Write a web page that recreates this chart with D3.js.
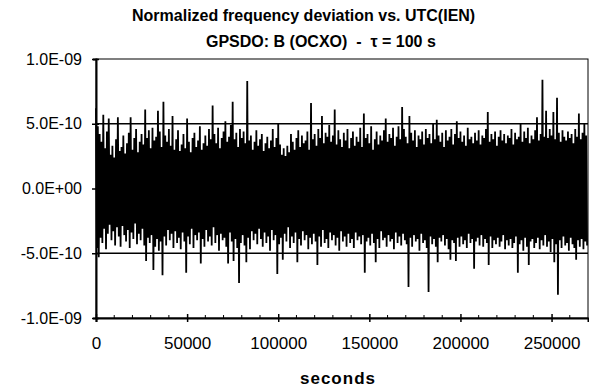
<!DOCTYPE html>
<html>
<head>
<meta charset="utf-8">
<script src="https://cdn.jsdelivr.net/npm/d3@7"></script>
<style>
  body { margin: 0; background: #fff; }
  text { font-family: "Liberation Sans", Arial, sans-serif; fill: #000; }
</style>
</head>
<body>
<script>
// tick values and labels
const xTicks = [0, 50000, 100000, 150000, 200000, 250000];
const yTicks = [1e-9, 5e-10, 0, -5e-10, -1e-9];
const yTickLabels = ["1.0E-09", "5.0E-10", "0.0E+00", "-5.0E-10", "-1.0E-09"];
const gridValues = [5e-10, -5e-10];

// highest / lowest reading in every 1000 s slot, in units of 1E-10 (estimated from the plot)
const upperPeaks = [
  6.2, 4.8, 4.2, 3.6, 5.7, 3.1, 4.4, 5.4, 2.6, 3.3,
  2.4, 3.8, 5.5, 2.9, 3.2, 4.1, 2.7, 3.5, 4.3, 5.5,
  3.0, 3.9, 4.6, 2.8, 3.6, 4.2, 3.4, 6.1, 3.9, 4.5,
  3.1, 4.7, 3.7, 4.0, 6.0, 4.4, 3.2, 6.7, 4.1, 3.6,
  4.6, 3.3, 5.6, 3.0, 3.8, 4.5, 2.9, 3.4, 4.2, 3.1,
  5.4, 3.6, 2.8, 3.9, 4.3, 3.2, 3.7, 4.8, 3.0, 3.5,
  4.1, 3.3, 4.6, 3.8, 6.4, 4.2, 3.5, 4.7, 3.1, 3.9,
  4.4, 5.2, 3.6, 4.0, 4.9, 6.7, 3.8, 4.3, 3.2, 4.6,
  3.9, 4.4, 3.5, 8.3, 3.7, 4.1, 3.0, 3.6, 4.5, 3.3,
  3.8, 4.2, 2.9, 3.5, 4.0, 3.1, 3.7, 4.6, 3.2, 3.9,
  5.0, 3.4, 2.6, 3.1, 2.5, 3.3, 2.8, 4.2, 3.6, 3.0,
  3.9, 4.5, 3.2, 4.1, 3.5, 3.7, 4.4, 3.0, 6.6, 3.8,
  4.2, 3.3, 4.6, 3.9, 5.6, 3.5, 4.3, 4.0, 4.9, 3.6,
  4.1, 6.1, 3.4, 4.5, 3.8, 3.2, 4.3, 3.7, 4.6, 3.1,
  3.9, 4.4, 3.3, 4.0, 3.6, 4.7, 3.2, 5.8, 3.9, 4.2,
  3.5, 4.8, 3.0, 3.8, 4.4, 3.4, 4.1, 3.7, 4.5, 5.4,
  3.6, 4.2, 3.9, 4.7, 3.3, 4.0, 4.8, 3.8, 6.3, 4.6,
  4.0, 3.5, 5.6, 4.3, 3.7, 4.5, 3.2, 4.1, 3.8, 4.4,
  3.4, 4.6, 3.9, 4.2, 3.5, 5.0, 3.8, 5.3, 4.1, 3.6,
  4.3, 3.2, 4.5, 3.7, 4.0, 4.6, 3.4, 4.2, 5.2, 3.9,
  4.4, 3.6, 4.1, 3.3, 4.7, 3.8, 4.0, 3.5, 4.3, 3.7,
  4.5, 3.4, 4.1, 3.9, 4.6, 5.9, 3.6, 4.2, 3.8, 4.4,
  3.3, 4.0, 4.5, 3.7, 4.2, 3.5, 4.1, 3.9, 4.6, 3.4,
  4.3, 3.8, 4.0, 5.0, 3.6, 4.4, 3.9, 4.7, 3.5, 4.1,
  3.8, 4.5, 5.5, 3.7, 4.2, 8.4, 4.0, 6.0, 3.9, 4.6,
  4.1, 5.9, 3.8, 7.0, 4.3, 3.6, 4.5, 4.0, 3.7, 4.4,
  3.9, 4.2, 3.5, 4.6, 4.0, 5.8, 3.8, 4.3, 5.0, 4.1
];
const lowerPeaks = [
  -4.6, -5.3, -3.8, -4.2, -3.1, -4.7, -3.5, -2.8, -4.0, -3.3,
  -4.4, -3.0, -3.7, -4.5, -2.9, -3.6, -4.1, -3.2, -4.6, -3.4,
  -3.9, -2.7, -4.3, -3.5, -4.0, -3.1, -4.4, -5.6, -3.8, -4.2,
  -3.6, -6.3, -4.5, -3.9, -4.8, -4.1, -6.7, -3.7, -4.4, -3.2,
  -4.0, -3.5, -4.6, -3.3, -4.2, -3.8, -4.7, -3.4, -4.1, -6.5,
  -3.7, -4.3, -3.1, -4.6, -3.6, -4.0, -3.4, -5.8, -3.9, -4.5,
  -3.2, -4.1, -3.7, -4.4, -3.0, -4.2, -3.6, -4.8, -3.5, -4.0,
  -3.8, -4.5, -5.8, -3.4, -4.1, -5.6, -3.9, -4.6, -7.3, -4.2,
  -3.6, -4.4, -5.7, -3.8, -4.7, -3.3, -4.0, -3.5, -4.3, -3.1,
  -3.9, -4.5, -3.4, -4.2, -3.7, -4.8, -3.2, -4.0, -3.6, -6.6,
  -4.3, -3.8, -5.5, -3.5, -4.1, -3.0, -4.6, -3.7, -4.2, -3.4,
  -5.7, -3.9, -4.4, -3.3, -4.0, -3.6, -4.7, -3.8, -4.3, -3.5,
  -4.1, -5.9, -3.7, -4.5, -3.2, -4.2, -3.9, -4.6, -3.4, -4.0,
  -3.6, -4.4, -3.8, -4.8, -3.3, -4.1, -3.7, -4.5, -3.5, -4.2,
  -3.9, -4.6, -3.4, -4.0, -3.7, -4.3, -3.6, -6.5, -4.1, -3.8,
  -4.4, -3.5, -4.2, -5.7, -3.9, -4.6, -3.3, -4.0, -3.8, -4.5,
  -3.6, -4.1, -3.9, -4.7, -3.4, -4.2, -3.7, -4.4, -3.5, -4.0,
  -4.3, -7.6, -3.8, -4.5, -3.6, -4.1, -3.9, -4.8, -3.5, -4.2,
  -4.0, -4.6, -8.0, -3.7, -4.3, -3.9, -4.5, -5.7, -3.8, -4.1,
  -3.6, -4.4, -3.9, -4.7, -5.5, -4.0, -4.2, -5.6, -3.8, -4.5,
  -3.7, -4.3, -4.0, -4.6, -3.5, -4.2, -3.9, -6.2, -4.1, -3.8,
  -4.4, -3.6, -4.5, -3.9, -4.2, -5.9, -3.7, -4.6, -4.0, -4.3,
  -3.8, -4.5, -4.1, -3.6, -4.7, -4.0, -4.4, -3.9, -4.6, -4.2,
  -3.7, -6.5, -4.3, -4.0, -4.8, -3.8, -4.5, -5.9, -4.1, -3.9,
  -4.6, -4.2, -3.8, -4.7, -4.0, -4.4, -3.6, -4.5, -4.1, -4.9,
  -3.9, -5.7, -4.3, -8.2, -4.0, -4.6, -3.7, -4.4, -4.2, -4.8,
  -3.8, -4.3, -4.6, -5.5, -4.0, -4.5, -3.9, -4.7, -4.1, -4.4
];
const slotSeconds = 1000;

// series: one high and one low reading per slot
let series = [];
for (let i = 0; i < upperPeaks.length; i++) {
  series.push({t: i * slotSeconds, v: upperPeaks[i] * 1e-10});
  series.push({t: i * slotSeconds + slotSeconds / 2, v: lowerPeaks[i] * 1e-10});
}

const width = 589, height = 391;
const plotLeft = 96, plotRight = 588, plotTop = 59, plotBottom = 318;

var svg = d3.select('body').append("svg").attr("width", width).attr("height", height);

var x = d3.scaleLinear().domain([0, 270000]).range([plotLeft, plotRight]);
var y = d3.scaleLinear().domain([-1e-9, 1e-9]).range([plotBottom, plotTop]);

// title
svg.append("text").attr("x", 132).attr("y", 21)
   .style("font-size", "16px").style("font-weight", "bold")
   .text("Normalized frequency deviation vs. UTC(IEN)");
svg.append("text").attr("x", 206).attr("y", 47)
   .style("font-size", "16px").style("font-weight", "bold").style("white-space", "pre")
   .text("GPSDO: B (OCXO)  -  \u03c4 = 100 s");

// plot frame
svg.append("rect").attr("x", plotLeft).attr("y", plotTop)
   .attr("width", plotRight - plotLeft).attr("height", plotBottom - plotTop)
   .attr("fill", "none").attr("stroke", "#000").attr("stroke-width", 1);

// gridlines at +-5E-10
svg.selectAll(".grid").data(gridValues).enter().append("line")
   .attr("x1", plotLeft).attr("x2", plotRight)
   .attr("y1", d => y(d)).attr("y2", d => y(d))
   .attr("stroke", "#000").attr("stroke-width", 1.5);

// the series
var line = d3.line().x(d => x(d.t)).y(d => y(d.v));
svg.append("path").datum(series).attr("d", line)
   .attr("fill", "none").attr("stroke", "#000").attr("stroke-width", 1.8)
   .attr("stroke-linejoin", "miter").attr("stroke-miterlimit", 2);

// y axis
var yAxis = d3.axisLeft(y).tickValues(yTicks).tickSize(3).tickPadding(11)
   .tickFormat((d, i) => yTickLabels[i]);
var gy = svg.append("g").attr("transform", "translate(" + plotLeft + ",0)").call(yAxis);
gy.select(".domain").attr("stroke-width", 2);
gy.selectAll(".tick line").attr("x2", -4).attr("x1", 3).attr("stroke-width", 1.5);
gy.selectAll("text").style("font-size", "16px").style("font-family", "Liberation Sans, Arial, sans-serif");

// x axis: minor ticks every 10000 s pointing inward
var minorTicks = d3.range(10000, 270000, 10000).filter(d => d % 50000 !== 0);
svg.selectAll(".minor").data(minorTicks).enter().append("line")
   .attr("x1", d => x(d)).attr("x2", d => x(d))
   .attr("y1", plotBottom).attr("y2", plotBottom - 3)
   .attr("stroke", "#000").attr("stroke-width", 1);

var xAxis = d3.axisBottom(x).tickValues(xTicks).tickSize(4).tickPadding(15)
   .tickFormat(d3.format("d"));
var gx = svg.append("g").attr("transform", "translate(0," + plotBottom + ")").call(xAxis);
gx.select(".domain").attr("stroke-width", 2);
gx.selectAll(".tick line").attr("y1", -4).attr("stroke-width", 1.5);
gx.selectAll("text").style("font-size", "17px").style("font-family", "Liberation Sans, Arial, sans-serif");

// x axis title
svg.append("text").attr("x", (plotLeft + plotRight) / 2 - 4).attr("y", 384)
   .attr("text-anchor", "middle")
   .style("font-size", "17px").style("font-weight", "bold").style("letter-spacing", "1px")
   .text("seconds");
</script>
</body>
</html>
